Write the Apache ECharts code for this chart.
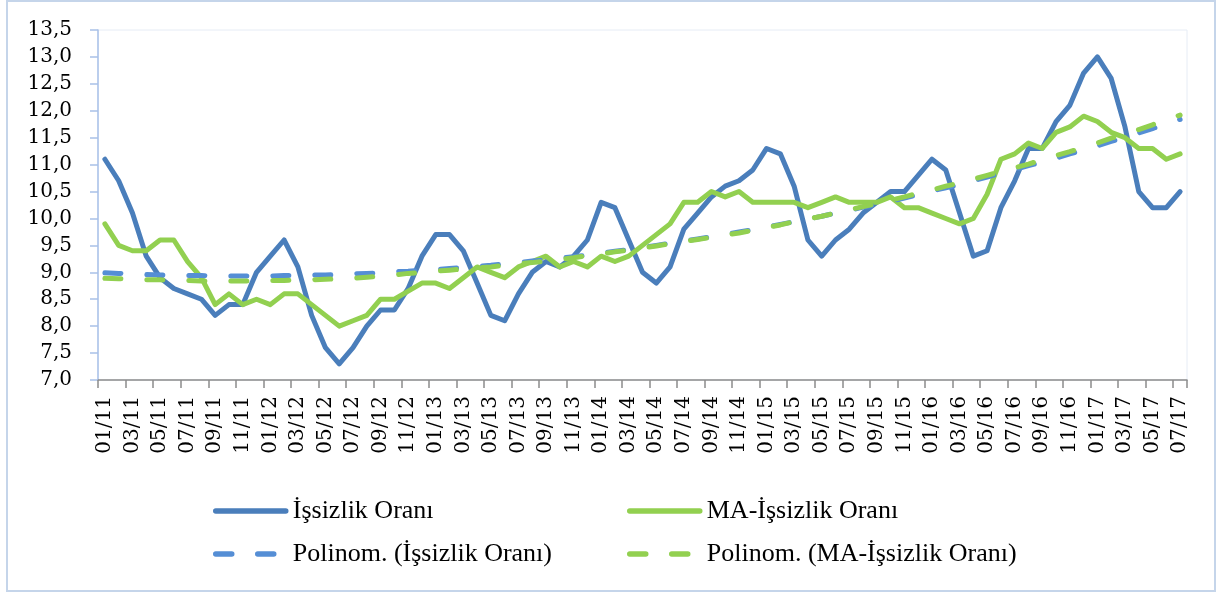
<!DOCTYPE html>
<html>
<head>
<meta charset="utf-8">
<script src="https://cdn.jsdelivr.net/npm/echarts@6/dist/echarts.min.js"></script>
<style>
html,body{margin:0;padding:0;background:#fff;}
#chart{width:1217px;height:594px;}
</style>
</head>
<body>
<div id="chart"></div>
<script>
const categories = [
  '01/11','02/11','03/11','04/11','05/11','06/11','07/11','08/11','09/11','10/11','11/11','12/11',
  '01/12','02/12','03/12','04/12','05/12','06/12','07/12','08/12','09/12','10/12','11/12','12/12',
  '01/13','02/13','03/13','04/13','05/13','06/13','07/13','08/13','09/13','10/13','11/13','12/13',
  '01/14','02/14','03/14','04/14','05/14','06/14','07/14','08/14','09/14','10/14','11/14','12/14',
  '01/15','02/15','03/15','04/15','05/15','06/15','07/15','08/15','09/15','10/15','11/15','12/15',
  '01/16','02/16','03/16','04/16','05/16','06/16','07/16','08/16','09/16','10/16','11/16','12/16',
  '01/17','02/17','03/17','04/17','05/17','06/17','07/17'
];

const unemployment = [
  11.1,10.7,10.1,9.3,8.9,8.7,8.6,8.5,8.2,8.4,8.4,9.0,
  9.3,9.6,9.1,8.2,7.6,7.3,7.6,8.0,8.3,8.3,8.7,9.3,
  9.7,9.7,9.4,8.8,8.2,8.1,8.6,9.0,9.2,9.1,9.3,9.6,
  10.3,10.2,9.6,9.0,8.8,9.1,9.8,10.1,10.4,10.6,10.7,10.9,
  11.3,11.2,10.6,9.6,9.3,9.6,9.8,10.1,10.3,10.5,10.5,10.8,
  11.1,10.9,10.1,9.3,9.4,10.2,10.7,11.3,11.3,11.8,12.1,12.7,
  13.0,12.6,11.7,10.5,10.2,10.2,10.5
];

const maUnemployment = [
  9.9,9.5,9.4,9.4,9.6,9.6,9.2,8.9,8.4,8.6,8.4,8.5,
  8.4,8.6,8.6,8.4,8.2,8.0,8.1,8.2,8.5,8.5,8.65,8.8,
  8.8,8.7,8.9,9.1,9.0,8.9,9.1,9.2,9.3,9.1,9.2,9.1,
  9.3,9.2,9.3,9.5,9.7,9.9,10.3,10.3,10.5,10.4,10.5,10.3,
  10.3,10.3,10.3,10.2,10.3,10.4,10.3,10.3,10.3,10.4,10.2,10.2,
  10.1,10.0,9.9,10.0,10.45,11.1,11.2,11.4,11.3,11.6,11.7,11.9,
  11.8,11.6,11.5,11.3,11.3,11.1,11.2
];

const trendUnemployment = [
  8.99,8.98,8.97,8.96,8.95,8.95,8.94,8.94,8.93,8.93,8.93,8.93,
  8.93,8.94,8.94,8.95,8.95,8.96,8.97,8.98,8.99,9.01,9.02,9.04,
  9.05,9.07,9.09,9.11,9.13,9.16,9.18,9.21,9.23,9.26,9.29,9.32,
  9.36,9.39,9.42,9.46,9.50,9.54,9.58,9.62,9.66,9.70,9.75,9.79,
  9.84,9.89,9.94,9.99,10.04,10.10,10.15,10.21,10.26,10.32,10.38,10.44,
  10.51,10.57,10.63,10.70,10.77,10.84,10.91,10.98,11.05,11.12,11.20,11.27,
  11.35,11.43,11.51,11.59,11.67,11.76,11.84
];

const trendMA = [
  8.89,8.88,8.87,8.86,8.86,8.85,8.85,8.84,8.84,8.84,8.84,8.84,
  8.85,8.85,8.86,8.86,8.87,8.88,8.89,8.91,8.93,8.95,8.98,9.00,
  9.02,9.04,9.06,9.08,9.10,9.13,9.16,9.18,9.21,9.24,9.27,9.31,
  9.34,9.38,9.41,9.45,9.49,9.53,9.57,9.61,9.65,9.69,9.73,9.78,
  9.83,9.88,9.94,9.99,10.04,10.10,10.16,10.22,10.28,10.34,10.40,10.47,
  10.53,10.60,10.66,10.73,10.80,10.87,10.94,11.01,11.09,11.17,11.24,11.32,
  11.40,11.49,11.57,11.65,11.74,11.83,11.92
];

const names = ['İşsizlik Oranı','MA-İşsizlik Oranı','Polinom. (İşsizlik Oranı)','Polinom. (MA-İşsizlik Oranı)'];

const BLUE = '#4a7ebb', BLUE_T = '#558ed5', GREEN = '#92d050';
const axisFont = 'DejaVu Serif';
const legendFont = 'Liberation Serif';

function mkLegend(name, left, top) {
  return {
    data: [name], left: left, top: top, padding: 0,
    itemWidth: 70, itemHeight: 10, itemGap: 0,
    lineStyle: { width: 5.5 },
    itemStyle: { opacity: 0 },
    textStyle: { fontFamily: legendFont, fontSize: 26, color: '#000', padding: [0,0,0,2] },
    selectedMode: false
  };
}

const chart = echarts.init(document.getElementById('chart'), null, { renderer: 'canvas' });
chart.setOption({
  backgroundColor: '#fff',
  animation: false,
  graphic: [{
    type: 'rect', shape: { x: 7, y: 1, width: 1208, height: 590 },
    style: { fill: 'none', stroke: '#c5d5ea', lineWidth: 2 }, silent: true
  }],
  grid: { left: 98, right: 30, top: 30, bottom: 214, show: true, borderColor: '#e6ecf5', borderWidth: 1 },
  legend: [
    mkLegend(names[0], 213, 498),
    mkLegend(names[1], 627, 498),
    mkLegend(names[2], 213, 541),
    mkLegend(names[3], 627, 541)
  ],
  xAxis: {
    type: 'category', data: categories, boundaryGap: true,
    axisLine: { lineStyle: { color: '#8c8c8c', width: 1.5 } },
    axisTick: { show: true, interval: 1, length: 8, lineStyle: { color: '#8c8c8c', width: 1.5 } },
    axisLabel: { interval: 1, rotate: 90, margin: 16, fontFamily: axisFont, fontSize: 20, color: '#000' },
    splitLine: { show: false }
  },
  yAxis: {
    type: 'value', min: 7, max: 13.5, interval: 0.5,
    axisLine: { show: true, lineStyle: { color: '#a9c1e8', width: 1.5 } },
    axisTick: { show: true, length: 8, lineStyle: { color: '#a9c1e8', width: 1.5 } },
    axisLabel: { margin: 26, fontFamily: axisFont, fontSize: 20, color: '#000',
      formatter: v => v.toFixed(1).replace('.', ',') },
    splitLine: { show: false }
  },
  series: [
    { name: names[0], type: 'line', data: unemployment, symbol: 'none', z: 2,
      lineStyle: { color: BLUE, width: 5, join: 'round', cap: 'round' }, itemStyle: { color: BLUE } },
    { name: names[1], type: 'line', data: maUnemployment, symbol: 'none', z: 3,
      lineStyle: { color: GREEN, width: 5, join: 'round', cap: 'round' }, itemStyle: { color: GREEN } },
    { name: names[2], type: 'line', data: trendUnemployment, symbol: 'none', z: 4,
      lineStyle: { color: BLUE_T, width: 5, type: [16, 26], cap: 'round' }, itemStyle: { color: BLUE_T } },
    { name: names[3], type: 'line', data: trendMA, symbol: 'none', z: 5,
      lineStyle: { color: GREEN, width: 5, type: [16, 26], cap: 'round' }, itemStyle: { color: GREEN } }
  ]
});
</script>
</body>
</html>
